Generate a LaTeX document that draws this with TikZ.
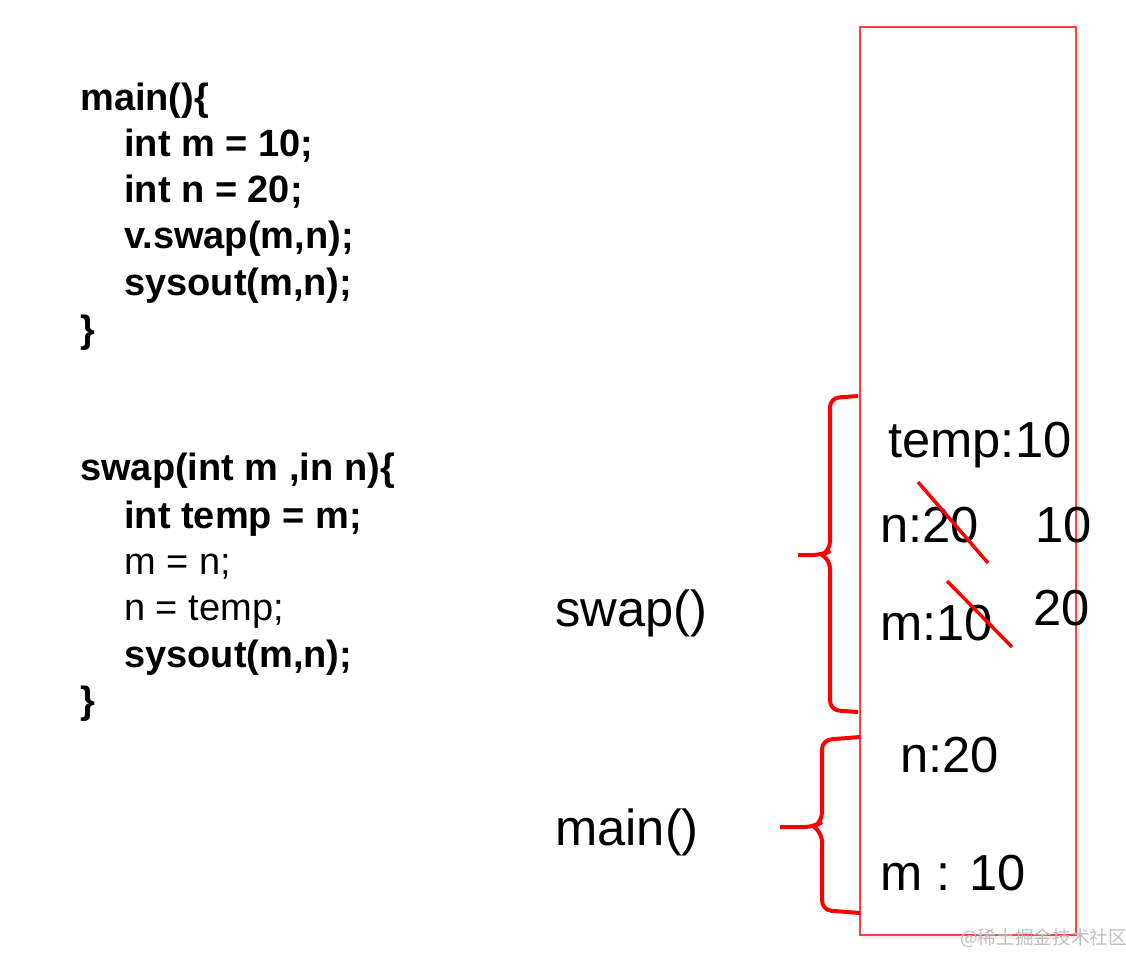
\documentclass[tikz,border=0pt]{standalone}
\usepackage{fontspec}
\setmainfont{Liberation Sans}
\newfontfamily\cjk{Noto Sans CJK SC}
\begin{document}
\begin{tikzpicture}[x=0.75pt,y=-0.75pt,
  code/.style={anchor=base west,inner sep=0pt,font=\fontsize{28.5}{30}\selectfont\bfseries},
  codereg/.style={anchor=base west,inner sep=0pt,font=\fontsize{28.5}{30}\selectfont},
  lbl/.style={anchor=base west,inner sep=0pt,font=\fontsize{38}{40}\selectfont},
  brace/.style={draw=red,line width=3pt,rounded corners=7pt},
  strike/.style={draw=red,line width=2.6pt},
  stack/.style={draw=red!75,line width=1.8pt}]
\useasboundingbox (0,0) rectangle (1126,954);
\fill[white] (0,0) rectangle (1126,954);
% code
\node[code] (c1) at (80,110) {main()\{};
\node[code] (c2) at (124,156) {int m = 10;};
\node[code] (c3) at (124,202) {int n = 20;};
\node[code] (c4) at (124,248) {v.swap(m,n);};
\node[code] (c5) at (124,295) {sysout(m,n);};
\node[code] (c6) at (80,342) {\}};
\node[code] (d1) at (80,480) {swap(int m ,in n)\{};
\node[code] (d2) at (124,528) {int temp = m;};
\node[codereg] (d3) at (124,574) {m = n;};
\node[codereg] (d4) at (124,620) {n = temp;};
\node[code] (d5) at (124,667) {sysout(m,n);};
\node[code] (d6) at (80,713) {\}};
% stack box
\fill[black!6] (863,31) rectangle (1080,939);
\draw[stack,fill=white] (860,27) rectangle (1076,935);
% labels
\node[lbl] (sw) at (555,626) {swap()};
\node[lbl] (mn) at (555,845) {main()};
\node[lbl] (tp) at (888,457) {temp:10};
\node[lbl] (sn) at (880,542) {n:20};
\node[lbl] (sn2) at (1035,542) {10};
\node[lbl] (sm) at (880,640) {m:10};
\node[lbl] (sm2) at (1033,625) {20};
\node[lbl] (mnn) at (900,772) {n:20};
\node[lbl] (mnm) at (880,890) {m : 10};
% strikes
\draw[strike] (918,482) -- (988,563);
\draw[strike] (947,581) -- (1012,647);
% braces
\coordinate (bs1) at (858,396);
\coordinate (bs2) at (858,712);
\coordinate (bst) at (798,555);
\draw[brace] (bs1) -- (830,398) -- (830,551) -- (822,555) -- (bst);
\draw[brace] (822,555) -- (830,559) -- (830,710) -- (bs2);
\coordinate (bm1) at (860,737);
\coordinate (bm2) at (860,913);
\coordinate (bmt) at (780,827);
\draw[brace] (bm1) -- (822,740) -- (822,822) -- (814,827) -- (bmt);
\draw[brace] (814,827) -- (822,832) -- (822,910) -- (bm2);
% watermark
\node[anchor=base west,inner sep=0pt,text=black!25,font=\cjk\fontsize{14}{16}\selectfont] (wm) at (960,944) {@稀土掘金技术社区};
\end{tikzpicture}
\end{document}
